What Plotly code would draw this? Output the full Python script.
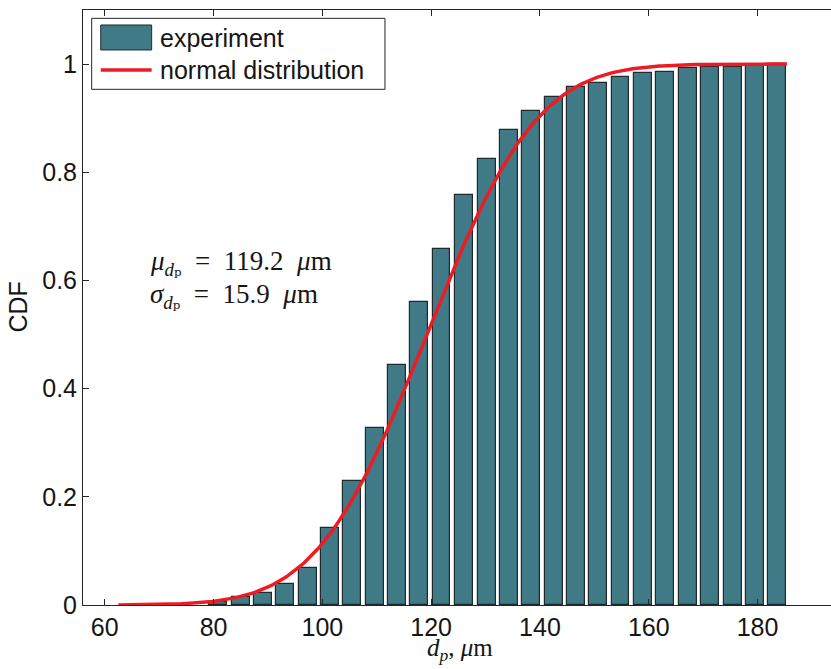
import math
import plotly.graph_objects as go

# Bar centres (dp, µm) and experimental CDF values
bin_centers = [80.9, 85.0, 89.1, 93.2, 97.3, 101.4, 105.5, 109.6, 113.7, 117.8,
               121.9, 126.0, 130.2, 134.3, 138.4, 142.5, 146.6, 150.7, 154.8, 158.9,
               163.0, 167.2, 171.3, 175.4, 179.5, 183.6]
cdf_experiment = [0.005, 0.014, 0.023, 0.038, 0.069, 0.143, 0.229, 0.327, 0.443, 0.561,
                  0.658, 0.758, 0.825, 0.878, 0.913, 0.939, 0.958, 0.965, 0.976, 0.984,
                  0.986, 0.993, 0.995, 0.995, 0.997, 1.0]

# Normal fit parameters (from the annotation)
MU = 119.2
SIGMA = 15.9
DP_MIN = 62.5
DP_MAX = 185.4

x_ticks = [60, 80, 100, 120, 140, 160, 180]
y_ticks = [0, 0.2, 0.4, 0.6, 0.8, 1.0]
y_tick_text = ["0", "0.2", "0.4", "0.6", "0.8", "1"]

N = 300
curve_x = [DP_MIN + (DP_MAX - DP_MIN) * i / (N - 1) for i in range(N)]
curve_y = [0.5 * (1 + math.erf((v - MU) / (SIGMA * math.sqrt(2)))) for v in curve_x]

BAR_COLOR = "#417a87"
RED = "#ed1c24"
AX = "#262626"
TXT = "#151515"
SANS = "Liberation Sans, Arial, sans-serif"
SERIF = "Liberation Serif, DejaVu Serif, serif"
SP = "\u2002"

fig = go.Figure()
fig.add_trace(go.Bar(x=bin_centers, y=cdf_experiment, width=3.3,
                     marker=dict(color=BAR_COLOR, line=dict(color="#1e2a2e", width=1.2)),
                     name="experiment", showlegend=False))
fig.add_trace(go.Scatter(x=curve_x, y=curve_y, mode="lines",
                         line=dict(color=RED, width=3.5),
                         name="normal distribution", showlegend=False))

# custom legend (MATLAB-style)
shapes = [
    dict(type="rect", xref="paper", yref="paper", x0=0.0116, x1=0.4037, y0=0.8667, y1=0.986,
         line=dict(color=AX, width=1), fillcolor="white", layer="above"),
    dict(type="rect", xref="paper", yref="paper", x0=0.0237, x1=0.0918, y0=0.9328, y1=0.9748,
         line=dict(color="#1e2a2e", width=1), fillcolor=BAR_COLOR, layer="above"),
    dict(type="line", xref="paper", yref="paper", x0=0.0237, x1=0.0918, y0=0.899, y1=0.899,
         line=dict(color=RED, width=3.5), layer="above"),
]
annotations = [
    dict(xref="paper", yref="paper", x=0.1003, y=0.953, text="experiment", showarrow=False,
         xanchor="left", yanchor="middle", font=dict(family=SANS, size=25, color=TXT)),
    dict(xref="paper", yref="paper", x=0.1003, y=0.899, text="normal distribution", showarrow=False,
         xanchor="left", yanchor="middle", font=dict(family=SANS, size=25, color=TXT)),
    dict(xref="x", yref="y", x=67.9, y=0.633,
         text=f"<i>μ</i><sub><i>d</i>ₚ</sub>{SP}={SP}119.2{SP}<i>μ</i>m", showarrow=False,
         xanchor="left", yanchor="middle", font=dict(family=SERIF, size=27, color=TXT)),
    dict(xref="x", yref="y", x=67.9, y=0.571,
         text=f"<i>σ</i><sub><i>d</i>ₚ</sub>{SP}={SP}15.9{SP}<i>μ</i>m", showarrow=False,
         xanchor="left", yanchor="middle", font=dict(family=SERIF, size=27, color=TXT)),
    dict(xref="paper", yref="paper", x=0.504, y=-0.1045,
         text="<i>d</i><sub><i>p</i></sub>, <i>μ</i>m", showarrow=False,
         xanchor="center", yanchor="bottom", font=dict(family=SERIF, size=25, color=TXT)),
    dict(xref="paper", yref="paper", x=-0.0882, y=0.5, text="CDF", textangle=-90,
         showarrow=False, xanchor="center", yanchor="middle",
         font=dict(family=SANS, size=25, color=TXT)),
]

fig.update_layout(
    width=831, height=669,
    margin=dict(l=83, r=0, t=10, b=64),
    paper_bgcolor="white", plot_bgcolor="white",
    bargap=0, shapes=shapes, annotations=annotations,
    font=dict(family=SANS, size=25, color=TXT),
    xaxis=dict(range=[56, 193.5], tickvals=x_ticks, ticks="inside", ticklen=6,
               tickcolor=AX, showline=True, linecolor=AX, linewidth=1, mirror="ticks",
               showgrid=False, zeroline=False, tickfont=dict(family=SANS, size=25, color=TXT)),
    yaxis=dict(range=[0, 1.1], tickvals=y_ticks, ticktext=y_tick_text, ticks="inside",
               ticklen=6, tickcolor=AX, showline=True, linecolor=AX, linewidth=1,
               mirror=False, showgrid=False, zeroline=False,
               tickfont=dict(family=SANS, size=25, color=TXT)),
)

fig.write_html("out.html")
